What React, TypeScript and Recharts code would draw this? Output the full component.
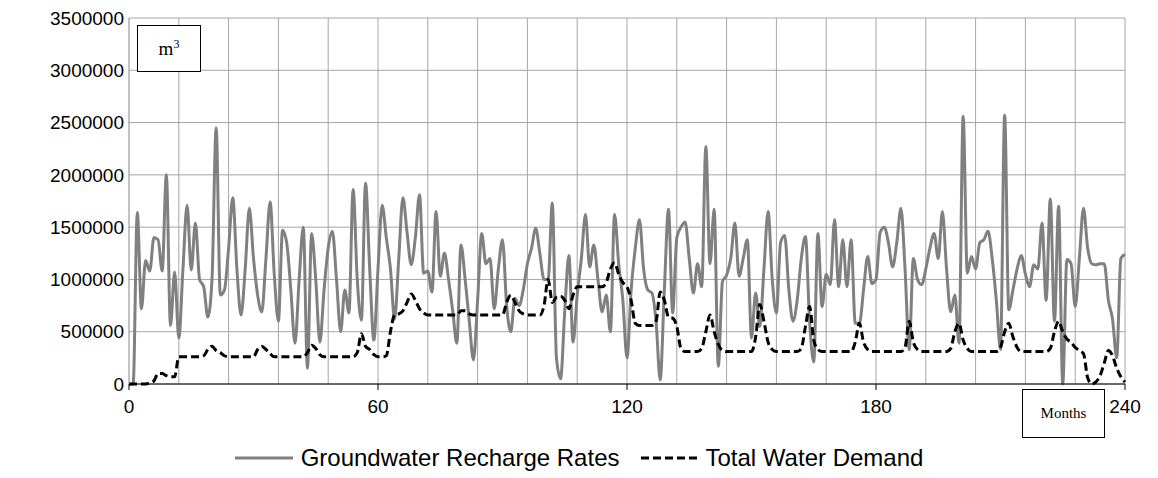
import React from 'react';
import { LineChart, Line, XAxis, YAxis, CartesianGrid, ReferenceLine } from 'recharts';

// monthly groundwater recharge, m3 (months 0..240)
const recharge = [
  0, 0, 1640000, 720000, 1180000, 1080000, 1400000, 1380000, 1080000, 2000000, 560000, 1070000,
  440000, 1100000, 1710000, 1090000, 1540000, 1000000, 930000, 640000, 1000000, 2450000, 850000, 900000,
  1300000, 1780000, 1100000, 660000, 1100000, 1680000, 1200000, 850000, 690000, 1200000, 1740000, 1050000,
  600000, 1470000, 1350000, 900000, 390000, 1000000, 1500000, 150000, 1440000, 1000000, 400000, 900000,
  1300000, 1460000, 1000000, 500000, 900000, 680000, 1860000, 1000000, 610000, 1920000, 1100000, 420000,
  1100000, 1710000, 1400000, 1100000, 620000, 1200000, 1780000, 1450000, 1140000, 1400000, 1810000, 1060000,
  1080000, 880000, 1650000, 1030000, 1250000, 1000000, 700000, 390000, 1330000, 1000000, 600000, 230000,
  800000, 1440000, 1150000, 1200000, 720000, 1100000, 1380000, 750000, 500000, 820000, 750000, 900000,
  1150000, 1300000, 1490000, 1250000, 1000000, 1000000, 1730000, 250000, 50000, 700000, 1230000, 400000,
  850000, 1200000, 1620000, 1120000, 1330000, 1000000, 690000, 850000, 500000, 1620000, 1150000, 800000,
  250000, 900000, 1300000, 1570000, 1100000, 900000, 870000, 600000, 40000, 900000, 1670000, 680000,
  1400000, 1500000, 1550000, 1200000, 870000, 1150000, 930000, 2270000, 1150000, 1670000, 170000, 980000,
  1040000, 1200000, 1540000, 1030000, 1200000, 1380000, 440000, 870000, 550000, 1100000, 1650000, 1000000,
  680000, 1350000, 1420000, 900000, 600000, 800000, 1200000, 1410000, 600000, 210000, 1440000, 740000,
  1050000, 950000, 1570000, 930000, 1380000, 930000, 1380000, 580000, 580000, 900000, 1220000, 960000,
  1000000, 1450000, 1500000, 1350000, 1120000, 1350000, 1680000, 1100000, 330000, 1200000, 1000000, 950000,
  1100000, 1300000, 1440000, 1200000, 1650000, 1100000, 690000, 850000, 390000, 2560000, 1060000, 1220000,
  1100000, 1350000, 1380000, 1460000, 1200000, 800000, 330000, 2570000, 710000, 900000, 1100000, 1230000,
  1050000, 930000, 1140000, 1100000, 1540000, 800000, 1770000, 600000, 1700000, 0, 1190000, 1150000,
  740000, 1200000, 1680000, 1300000, 1150000, 1140000, 1150000, 1150000, 800000, 620000, 250000, 1200000,
  1240000,
];

// monthly total water demand, m3 (months 0..240)
const demand = [
  0, 0, 0, 0, 0, 10000, 30000, 100000, 100000, 80000, 70000, 70000,
  260000, 260000, 260000, 260000, 260000, 260000, 270000, 330000, 360000, 320000, 300000, 270000,
  260000, 260000, 260000, 260000, 260000, 260000, 260000, 330000, 360000, 330000, 290000, 260000,
  260000, 260000, 260000, 260000, 260000, 260000, 260000, 300000, 370000, 340000, 280000, 260000,
  260000, 260000, 260000, 260000, 260000, 260000, 260000, 300000, 480000, 360000, 330000, 280000,
  260000, 260000, 270000, 500000, 660000, 670000, 700000, 780000, 860000, 800000, 720000, 680000,
  660000, 660000, 660000, 660000, 660000, 660000, 660000, 660000, 700000, 700000, 670000, 660000,
  660000, 660000, 660000, 660000, 660000, 660000, 660000, 780000, 850000, 780000, 700000, 670000,
  660000, 660000, 660000, 660000, 750000, 1000000, 780000, 830000, 840000, 800000, 720000, 850000,
  930000, 930000, 930000, 930000, 930000, 930000, 930000, 970000, 1100000, 1160000, 1050000, 970000,
  930000, 800000, 580000, 560000, 560000, 560000, 560000, 600000, 880000, 800000, 640000, 630000,
  550000, 340000, 310000, 310000, 310000, 310000, 340000, 500000, 660000, 500000, 380000, 320000,
  310000, 310000, 310000, 310000, 310000, 310000, 310000, 450000, 760000, 600000, 400000, 330000,
  310000, 310000, 310000, 310000, 310000, 310000, 340000, 550000, 740000, 420000, 330000, 310000,
  310000, 310000, 310000, 310000, 310000, 310000, 310000, 400000, 580000, 400000, 330000, 310000,
  310000, 310000, 310000, 310000, 310000, 310000, 310000, 350000, 600000, 400000, 330000, 310000,
  310000, 310000, 310000, 310000, 310000, 310000, 340000, 500000, 580000, 420000, 340000, 310000,
  310000, 310000, 310000, 310000, 310000, 310000, 350000, 500000, 580000, 450000, 350000, 310000,
  310000, 310000, 310000, 310000, 310000, 310000, 340000, 500000, 600000, 500000, 430000, 400000,
  350000, 320000, 290000, 60000, 0, 20000, 80000, 200000, 320000, 270000, 150000, 70000,
  20000,
];

const xTicks = [0, 60, 120, 180, 240];
const gridMonths = [12, 24, 36, 48, 60, 72, 84, 96, 108, 120, 132, 144, 156, 168, 180, 192, 204, 216, 228, 240];
const yTicks = [0, 500000, 1000000, 1500000, 2000000, 2500000, 3000000, 3500000];

const chartData = recharge.map((v, i) => ({ month: i, recharge: v, demand: demand[i] }));

const GRAY = '#808080';

export default function App() {
  return (
    <div
      style={{
        position: 'absolute',
        left: 0,
        top: 0,
        width: 1158,
        height: 478,
        background: '#fff',
        fontFamily: '"Liberation Sans", Arial, sans-serif',
      }}
    >
      <LineChart
        width={1158}
        height={478}
        data={chartData}
        margin={{ top: 18, right: 33, bottom: 54, left: 0 }}
      >
        <CartesianGrid vertical={false} stroke="#a6a6a6" />
        {gridMonths.map((m) => (
          <ReferenceLine key={m} x={m} stroke="#a6a6a6" />
        ))}
        <XAxis
          dataKey="month"
          type="number"
          domain={[0, 240]}
          ticks={xTicks}
          interval={0}
          height={40}
          tickSize={6}
          tickMargin={10}
          axisLine={{ stroke: '#000' }}
          tickLine={{ stroke: '#000' }}
          tick={{ fill: '#000', fontSize: 19 }}
        />
        <YAxis
          type="number"
          domain={[0, 3500000]}
          ticks={yTicks}
          interval={0}
          width={129}
          tickLine={false}
          tickSize={0}
          tickMargin={5}
          axisLine={{ stroke: '#868686' }}
          tick={{ fill: '#000', fontSize: 19 }}
        />
        <Line
          type="monotone"
          dataKey="recharge"
          stroke={GRAY}
          strokeWidth={3}
          dot={false}
          isAnimationActive={false}
        />
        <Line
          type="monotone"
          dataKey="demand"
          stroke="#000"
          strokeWidth={3}
          strokeDasharray="8 4"
          dot={false}
          isAnimationActive={false}
        />
      </LineChart>

      {/* unit box */}
      <div
        style={{
          position: 'absolute',
          left: 137,
          top: 25,
          width: 62,
          height: 45,
          border: '1px solid #000',
          background: '#fff',
          fontFamily: '"Liberation Serif", serif',
          fontSize: 19,
          display: 'flex',
          alignItems: 'center',
          justifyContent: 'center',
        }}
      >
        <span>
          m<sup style={{ fontSize: 12 }}>3</sup>
        </span>
      </div>

      {/* axis title box */}
      <div
        style={{
          position: 'absolute',
          left: 1022,
          top: 389,
          width: 81,
          height: 47,
          border: '1px solid #000',
          background: '#fff',
          fontFamily: '"Liberation Serif", serif',
          fontSize: 15,
          display: 'flex',
          alignItems: 'center',
          justifyContent: 'center',
        }}
      >
        Months
      </div>

      {/* legend */}
      <div
        style={{
          position: 'absolute',
          left: 0,
          top: 444,
          width: 1158,
          display: 'flex',
          justifyContent: 'center',
          alignItems: 'center',
          fontSize: 24,
          color: '#000',
        }}
      >
        <svg width={58} height={10} style={{ marginRight: 8 }}>
          <line x1={0} y1={5} x2={58} y2={5} stroke={GRAY} strokeWidth={3} />
        </svg>
        <span style={{ marginRight: 22 }}>Groundwater Recharge Rates</span>
        <svg width={56} height={10} style={{ marginRight: 8 }}>
          <line x1={0} y1={5} x2={56} y2={5} stroke="#000" strokeWidth={3} strokeDasharray="8 4" />
        </svg>
        <span>Total Water Demand</span>
      </div>
    </div>
  );
}
